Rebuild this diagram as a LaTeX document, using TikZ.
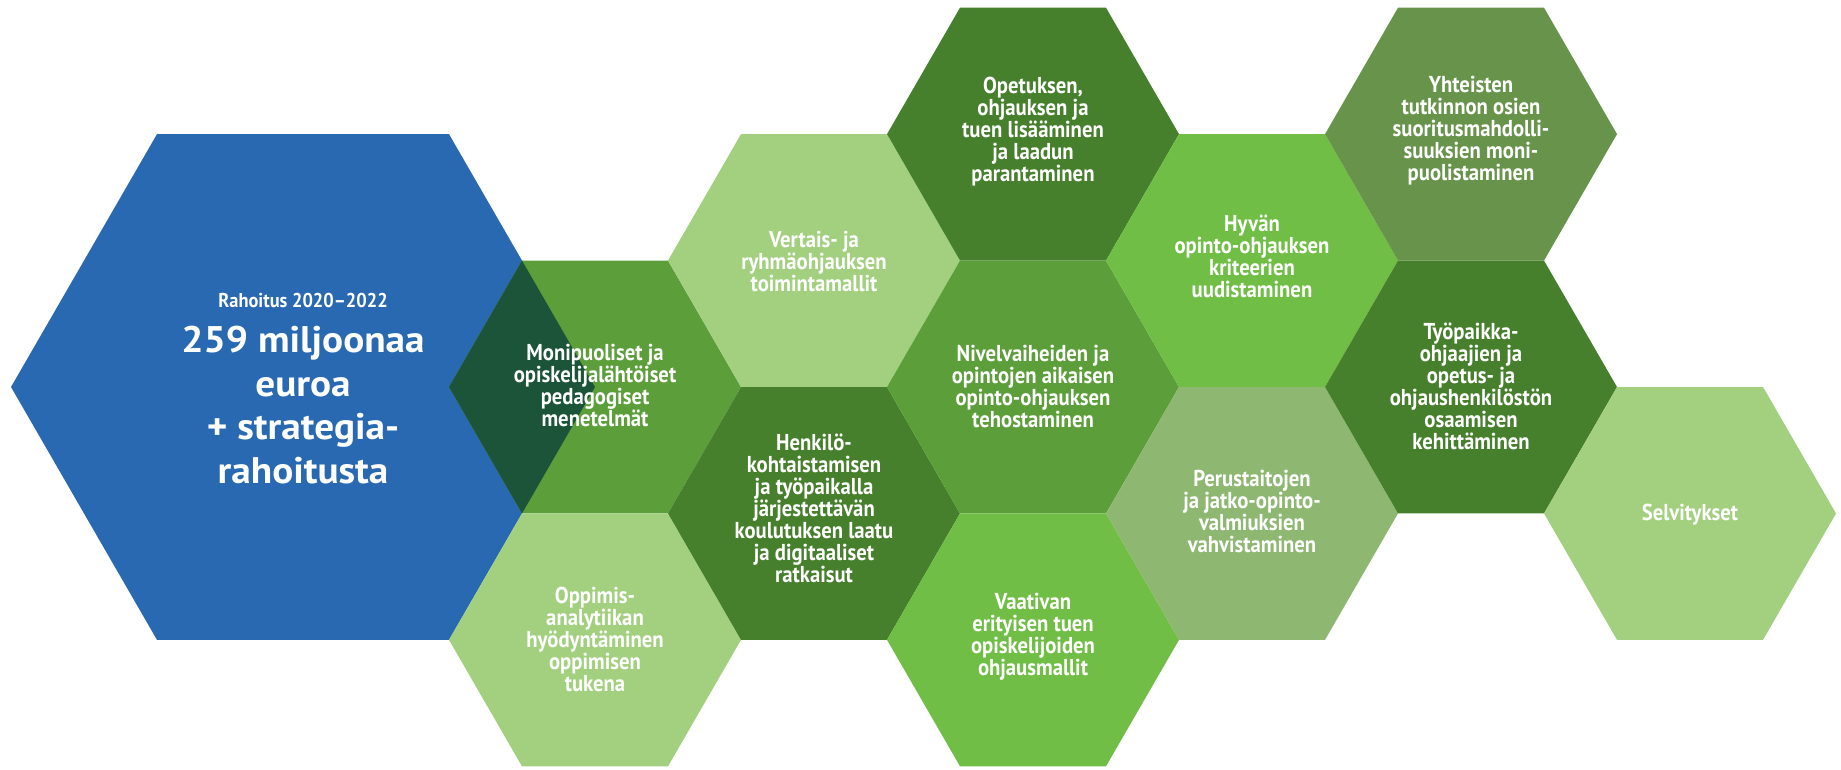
\documentclass[tikz,border=0pt]{standalone}
\usepackage{fontspec}
\newfontfamily\hexfont{PT Sans}[FakeStretch=0.90]
\newfontfamily\bigfont{PT Sans}[FakeStretch=1.06]
\newfontfamily\rahfont{PT Sans}[FakeStretch=0.92]
\definecolor{cblue}{HTML}{2869B2}
\definecolor{cdark}{HTML}{1B5438}
\definecolor{cmed}{HTML}{5C9E3A}
\definecolor{clight}{HTML}{A2D07F}
\definecolor{cdeep}{HTML}{47802D}
\definecolor{cbright}{HTML}{70BE45}
\definecolor{cgray}{HTML}{8EB871}
\definecolor{colive}{HTML}{67944A}
\newcommand\hexfill[4]{%
  \fill[#1] ({#2-#4},{-#3}) -- ({#2-#4/2},{-#3+0.866025*#4}) -- ({#2+#4/2},{-#3+0.866025*#4})
    -- ({#2+#4},{-#3}) -- ({#2+#4/2},{-#3-0.866025*#4}) -- ({#2-#4/2},{-#3-0.866025*#4}) -- cycle;}
\tikzset{
  hext/.style={text=white, align=center, inner sep=0pt,
    font=\hexfont\bfseries\fontsize{23}{22}\selectfont},
  bigt/.style={text=white, align=center, inner sep=0pt,
    font=\bigfont\bfseries\fontsize{37}{43.5}\selectfont},
  smallt/.style={text=white, inner sep=0pt,
    font=\rahfont\bfseries\fontsize{20}{24}\selectfont}
}
\begin{document}
\begin{tikzpicture}[x=1pt,y=1pt]
\useasboundingbox (0,0) rectangle (1841,-770);
% big blue hexagon
\hexfill{cblue}{303}{387}{292}
% small hexagons
\hexfill{cmed}{595}{387}{146}
\fill[cdark] (449,-387) -- (522,-260.56) -- (595,-387) -- (522,-513.44) -- cycle;
\hexfill{clight}{595}{639.88}{146}
\hexfill{clight}{814}{260.56}{146}
\hexfill{cdeep}{814}{513.44}{146}
\hexfill{cdeep}{1033}{134.12}{146}
\hexfill{cmed}{1033}{387}{146}
\hexfill{cbright}{1033}{639.88}{146}
\hexfill{cbright}{1252}{260.56}{146}
\hexfill{cgray}{1252}{513.44}{146}
\hexfill{colive}{1471}{134.12}{146}
\hexfill{cdeep}{1471}{387}{146}
\hexfill{clight}{1690}{513.44}{146}
% texts
\node[smallt, anchor=base] (rah) at (303,-307) {Rahoitus 2020–2022};
\node[bigt] (big) at (303,-405) {259 miljoonaa\\euroa\\+ strategia-\\rahoitusta};
\node[hext] (moni) at (595,-385) {Monipuoliset ja\\opiskelijalähtöiset\\pedagogiset\\menetelmät};
\node[hext] (oppi) at (595,-639) {Oppimis-\\analytiikan\\hyödyntäminen\\oppimisen\\tukena};
\node[hext] (vert) at (814,-261) {Vertais- ja\\ryhmäohjauksen\\toimintamallit};
\node[hext] (henk) at (814,-508) {Henkilö-\\kohtaistamisen\\ja työpaikalla\\järjestettävän\\koulutuksen laatu\\ja digitaaliset\\ratkaisut};
\node[hext] (opet) at (1033,-132) {Opetuksen,\\ohjauksen ja\\tuen lisääminen\\ja laadun\\parantaminen};
\node[hext] (nive) at (1033,-386) {Nivelvaiheiden ja\\opintojen aikaisen\\opinto-ohjauksen\\tehostaminen};
\node[hext] (vaat) at (1033,-637) {Vaativan\\erityisen tuen\\opiskelijoiden\\ohjausmallit};
\node[hext] (hyva) at (1252,-256) {Hyvän\\opinto-ohjauksen\\kriteerien\\uudistaminen};
\node[hext] (peru) at (1252,-511) {Perustaitojen\\ja jatko-opinto-\\valmiuksien\\vahvistaminen};
\node[hext] (yhte) at (1471,-131) {Yhteisten\\tutkinnon osien\\suoritusmahdolli-\\suuksien moni-\\puolistaminen};
\node[hext] (tyop) at (1471,-386) {Työpaikka-\\ohjaajien ja\\opetus- ja\\ohjaushenkilöstön\\osaamisen\\kehittäminen};
\node[hext] (selv) at (1690,-515) {Selvitykset};
\end{tikzpicture}
\end{document}
